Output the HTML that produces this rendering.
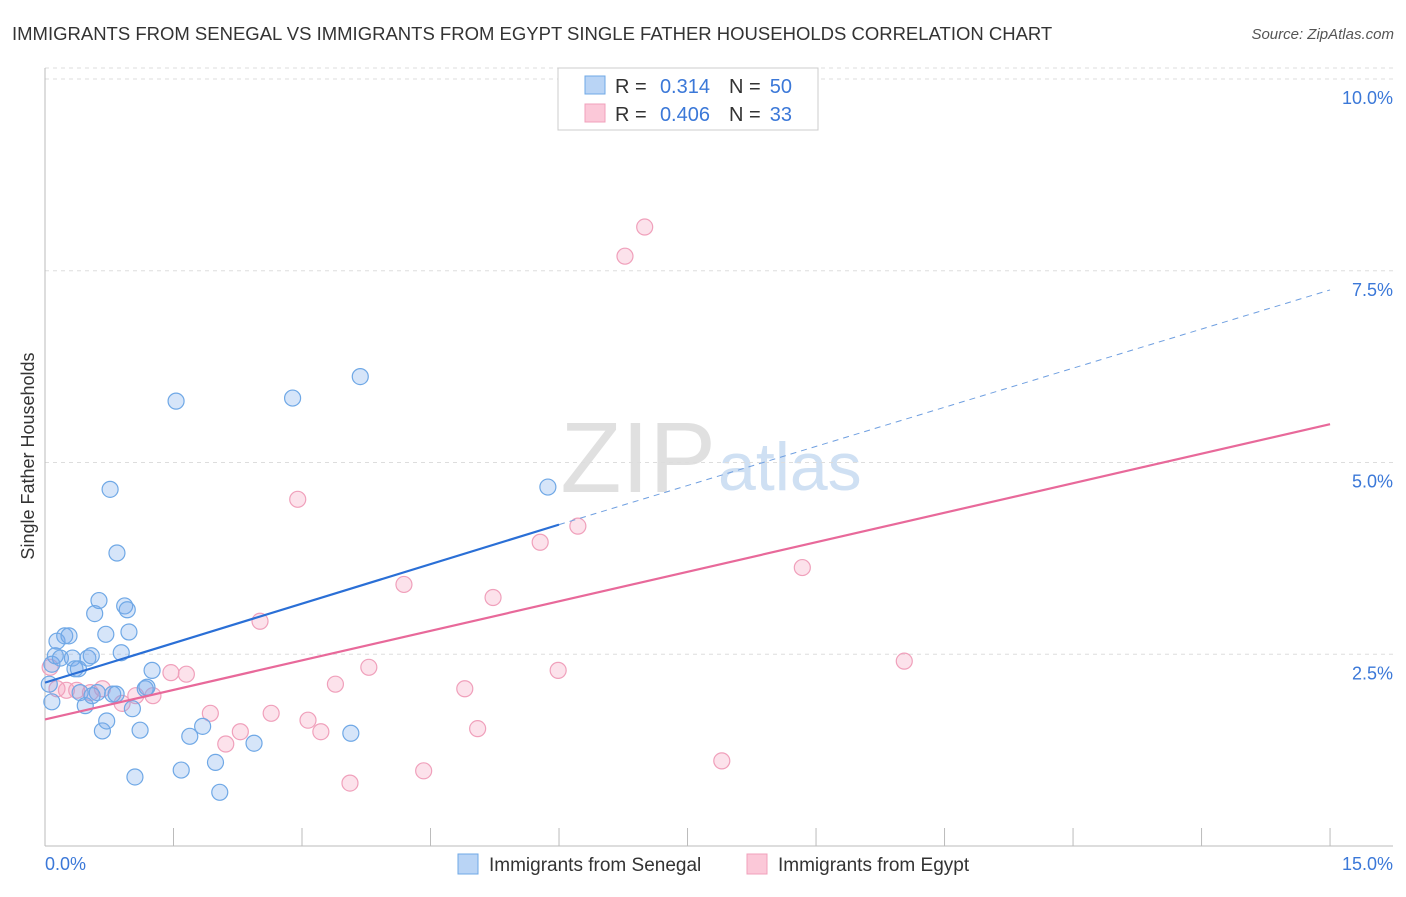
<!DOCTYPE html>
<html><head><meta charset="utf-8"><style>
body{margin:0;background:#fff;font-family:"Liberation Sans",sans-serif;}
svg text{font-family:"Liberation Sans",sans-serif;}
</style></head><body>
<svg id="c" width="1406" height="892">
<text x="12" y="40" font-size="18.5" fill="#333">IMMIGRANTS FROM SENEGAL VS IMMIGRANTS FROM EGYPT SINGLE FATHER HOUSEHOLDS CORRELATION CHART</text>
<text x="1394" y="39" font-size="15" fill="#555" font-style="italic" text-anchor="end">Source: ZipAtlas.com</text>
<text x="716" y="492" font-size="100" fill="#e0e0e0" text-anchor="end" font-family="Liberation Serif">ZIP</text>
<text x="718" y="490" font-size="68" fill="#cfe0f3">atlas</text>
<text transform="translate(34,456) rotate(-90)" font-size="18" fill="#333" text-anchor="middle">Single Father Households</text>
<g id="grid"></g><g id="marks"></g>
<g>
<rect x="558" y="68" width="260" height="62" fill="#fff" stroke="#ccc"/>
<rect x="585" y="76" width="20" height="18" fill="#b9d4f5" stroke="#6fa8e6"/>
<rect x="585" y="104" width="20" height="18" fill="#fbc8d8" stroke="#f0a0bb"/>
<text x="615" y="93" font-size="20" fill="#333">R =</text>
<text x="710" y="93" font-size="20" fill="#3b78d8" text-anchor="end">0.314</text>
<text x="729" y="93" font-size="20" fill="#333">N =</text>
<text x="792" y="93" font-size="20" fill="#3b78d8" text-anchor="end">50</text>
<text x="615" y="121" font-size="20" fill="#333">R =</text>
<text x="710" y="121" font-size="20" fill="#3b78d8" text-anchor="end">0.406</text>
<text x="729" y="121" font-size="20" fill="#333">N =</text>
<text x="792" y="121" font-size="20" fill="#3b78d8" text-anchor="end">33</text>
</g>
<g>
<rect x="458" y="854" width="20" height="20" fill="#b9d4f5" stroke="#6fa8e6"/>
<text x="489" y="871" font-size="19" fill="#333">Immigrants from Senegal</text>
<rect x="747" y="854" width="20" height="20" fill="#fbc8d8" stroke="#f0a0bb"/>
<text x="778" y="871" font-size="19" fill="#333">Immigrants from Egypt</text>
</g>
</svg>
<script>
const xTicks=[0,1.5,3,4.5,6,7.5,9,10.5,12,13.5,15];
const yTicks=[2.5,5,7.5,10];
const yTickLabels=["2.5%","5.0%","7.5%","10.0%"];
const senegalX=[0.08,0.05,0.08,0.12,0.14,0.18,0.23,0.28,0.32,0.35,0.39,0.41,0.47,0.5,0.54,0.58,0.63,0.61,0.55,0.67,0.71,0.72,0.76,0.79,0.83,0.84,0.89,0.93,0.96,0.98,1.02,1.05,1.11,1.17,1.19,1.25,1.53,1.59,1.69,1.84,1.99,2.04,2.44,2.89,3.57,3.68,5.87];
const senegalY=[1.88,2.11,2.37,2.48,2.67,2.45,2.74,2.74,2.45,2.31,2.31,2.0,1.83,2.45,2.48,3.03,3.2,2.0,1.96,1.5,2.76,1.63,4.65,1.98,1.98,3.82,2.52,3.13,3.08,2.79,1.79,0.9,1.51,2.05,2.07,2.29,5.8,0.99,1.43,1.56,1.09,0.7,1.34,5.84,1.47,6.12,4.68];
const egyptX=[0.06,0.14,0.25,0.37,0.53,0.67,0.9,1.06,1.26,1.47,1.65,1.93,2.11,2.28,2.51,2.64,2.95,3.07,3.22,3.39,3.56,3.78,4.19,4.42,4.9,5.05,5.23,5.78,5.99,6.22,6.77,7.0,7.9,8.84,10.03];
const egyptY=[2.33,2.05,2.03,2.03,2.0,2.05,1.86,1.96,1.96,2.26,2.24,1.73,1.33,1.49,2.93,1.73,4.52,1.64,1.49,2.11,0.82,2.33,3.41,0.98,2.05,1.53,3.24,3.96,2.29,4.17,7.69,8.07,1.11,3.63,2.41];
const senegalLine=[[0,2.13],[6.0,4.19]];
const senegalDash=[[6.0,4.19],[15,7.25]];
const egyptLine=[[0,1.65],[15,5.5]];
const X=v=>45+v*85.67, Y=v=>846-v*76.7;
const NS="http://www.w3.org/2000/svg";
function mk(t,a,p){const e=document.createElementNS(NS,t);for(const k in a)e.setAttribute(k,a[k]);p.appendChild(e);return e;}
const g=document.getElementById('grid'),m=document.getElementById('marks');
yTicks.forEach((t,i)=>{
 const l=mk('line',{x1:45,x2:1393,y1:Y(t),y2:Y(t),stroke:'#ddd','stroke-dasharray':'4,4'},g);
 
 
 const tx=mk('text',{x:1393,y:Y(t)+25,'font-size':18,fill:'#3b78d8','text-anchor':'end'},g);tx.textContent=yTickLabels[i];
 
 
});
mk('line',{x1:45,x2:1393,y1:Y(10)-11,y2:Y(10)-11,stroke:'#ddd','stroke-dasharray':'4,4'},g);
mk('line',{x1:45,x2:45,y1:68,y2:846,stroke:'#bbb'},g);
mk('line',{x1:45,x2:1393,y1:846,y2:846,stroke:'#bbb'},g);
xTicks.forEach(t=>{const l=mk('line',{x1:X(t),x2:X(t),y1:846,y2:828,stroke:'#bbb'},g);
 
 });
const a=mk('text',{x:45,y:870,'font-size':18,fill:'#3b78d8'},g);a.textContent='0.0%';


const b=mk('text',{x:1393,y:870,'font-size':18,fill:'#3b78d8','text-anchor':'end'},g);b.textContent='15.0%';


egyptX.forEach((v,i)=>{const c=mk('circle',{cx:X(v),cy:Y(egyptY[i]),r:8,fill:'rgba(245,160,190,0.3)',stroke:'#f0a0bb','stroke-width':1.2},m);
 
 });
senegalX.forEach((v,i)=>{const c=mk('circle',{cx:X(v),cy:Y(senegalY[i]),r:8,fill:'rgba(120,170,235,0.3)',stroke:'#6fa8e6','stroke-width':1.2},m);
 
 });
const l1=mk('line',{x1:X(senegalLine[0][0]),y1:Y(senegalLine[0][1]),x2:X(senegalLine[1][0]),y2:Y(senegalLine[1][1]),stroke:'#2a6fd6','stroke-width':2.2},m);


const l2=mk('line',{x1:X(senegalDash[0][0]),y1:Y(senegalDash[0][1]),x2:X(senegalDash[1][0]),y2:Y(senegalDash[1][1]),stroke:'#6f9fe0','stroke-width':1,'stroke-dasharray':'6,5'},m);


const l3=mk('line',{x1:X(egyptLine[0][0]),y1:Y(egyptLine[0][1]),x2:X(egyptLine[1][0]),y2:Y(egyptLine[1][1]),stroke:'#e8699a','stroke-width':2.2},m);


</script>
</body></html>
